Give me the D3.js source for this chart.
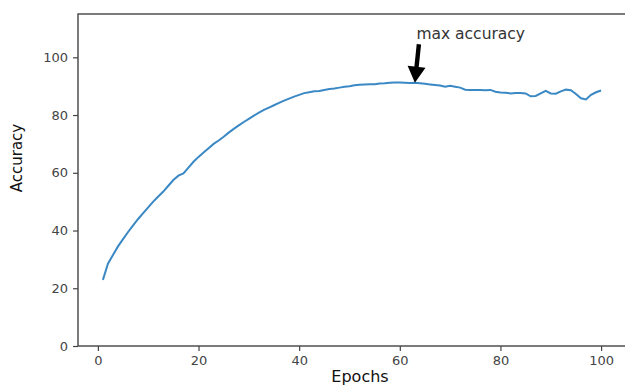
<!DOCTYPE html>
<html>
<head>
<meta charset="utf-8">
<script src="https://cdn.jsdelivr.net/npm/d3@7"></script>
<style>
  body { margin: 0; background: #fff; }
  text { font-family: "DejaVu Sans", sans-serif; fill: #333; }
</style>
</head>
<body>
<script>
// accuracy per epoch
const epochs = d3.range(1, 101);
const accuracy = [
  22.9, 28.5, 31.5, 34.5, 37.0, 39.5, 41.8, 44.0, 46.0, 48.0,
  50.0, 51.8, 53.5, 55.5, 57.5, 59.0, 59.8, 61.8, 63.8, 65.5,
  67.0, 68.5, 70.0, 71.2, 72.5, 73.9, 75.2, 76.4, 77.6, 78.7,
  79.8, 80.8, 81.8, 82.6, 83.4, 84.2, 85.0, 85.7, 86.4, 87.0,
  87.6, 87.9, 88.2, 88.3, 88.7, 89.0, 89.2, 89.5, 89.8, 90.0,
  90.3, 90.5, 90.6, 90.7, 90.7, 90.9, 91.0, 91.2, 91.3, 91.3,
  91.2, 91.1, 91.2, 91.0, 90.8, 90.6, 90.4, 90.2, 89.8, 90.1,
  89.8, 89.5, 88.8, 88.7, 88.7, 88.7, 88.6, 88.7, 88.1, 87.8,
  87.7, 87.5, 87.6, 87.6, 87.5, 86.5, 86.6, 87.5, 88.4, 87.5,
  87.4, 88.2, 88.8, 88.6, 87.3, 85.8, 85.4, 87.0, 87.9, 88.5
];
const xTicks = [0, 20, 40, 60, 80, 100];
const yTicks = [0, 20, 40, 60, 80, 100];
const annot = { text: "max accuracy", x: 63, y: 91.2, tx: 63.3, ty: 106 };

const width = 625, height = 387;
const svg = d3.select("body").append("svg")
  .attr("width", width)
  .attr("height", height);

const m = { left: 78, right: 626, top: 14, bottom: 346 };

const x = d3.scaleLinear().domain([-3.95, 104.95]).range([m.left, m.right]);
const y = d3.scaleLinear().domain([0, 115]).range([m.bottom, m.top]);

// axes
svg.append("g")
  .attr("transform", `translate(0,${m.bottom})`)
  .call(d3.axisBottom(x).tickValues(xTicks).tickSize(5).tickPadding(5))
  .call(g => g.select(".domain").remove());

svg.append("g")
  .attr("transform", `translate(${m.left},0)`)
  .call(d3.axisLeft(y).tickValues(yTicks).tickSize(5).tickPadding(5))
  .call(g => g.select(".domain").remove());

svg.selectAll(".tick line").attr("stroke", "#444").attr("stroke-width", 1.2);
svg.selectAll(".tick text")
  .style("font-family", "DejaVu Sans")
  .style("font-size", "13px")
  .style("fill", "#444");

// frame
svg.append("rect")
  .attr("x", m.left).attr("y", m.top)
  .attr("width", m.right - m.left).attr("height", m.bottom - m.top)
  .attr("fill", "none")
  .attr("stroke", "#444")
  .attr("stroke-width", 1.4);

// the line
const line = d3.line()
  .x((d, i) => x(epochs[i]))
  .y(d => y(d));

svg.append("path")
  .datum(accuracy)
  .attr("d", line)
  .attr("fill", "none")
  .attr("stroke", "#3a88c4")
  .attr("stroke-width", 2);

// annotation arrow
const tipX = x(annot.x), tipY = y(annot.y);
const tailX = tipX + 4, tailY = y(annot.ty - 1.5);
const headLen = 16, headW = 9, shaftW = 2.2;
const ang = Math.atan2(tipY - tailY, tipX - tailX);
const ux = Math.cos(ang), uy = Math.sin(ang);
const px = -uy, py = ux;
const bx = tipX - ux * headLen, by = tipY - uy * headLen;
const arrowPts = [
  [tailX + px * shaftW, tailY + py * shaftW],
  [bx + px * shaftW, by + py * shaftW],
  [bx + px * headW, by + py * headW],
  [tipX, tipY],
  [bx - px * headW, by - py * headW],
  [bx - px * shaftW, by - py * shaftW],
  [tailX - px * shaftW, tailY - py * shaftW]
];
svg.append("polygon")
  .attr("points", arrowPts.map(p => p.join(",")).join(" "))
  .attr("fill", "#000");

svg.append("text")
  .attr("x", x(annot.tx))
  .attr("y", y(annot.ty) - 1)
  .style("font-size", "15.5px")
  .text(annot.text);

// axis labels
svg.append("text")
  .attr("transform", `translate(22,158) rotate(-90)`)
  .attr("text-anchor", "middle")
  .style("font-size", "15px")
  .style("fill", "#111")
  .text("Accuracy");

svg.append("text")
  .attr("x", 360)
  .attr("y", 382)
  .attr("text-anchor", "middle")
  .style("font-size", "16px")
  .style("fill", "#111")
  .text("Epochs");
</script>
</body>
</html>
